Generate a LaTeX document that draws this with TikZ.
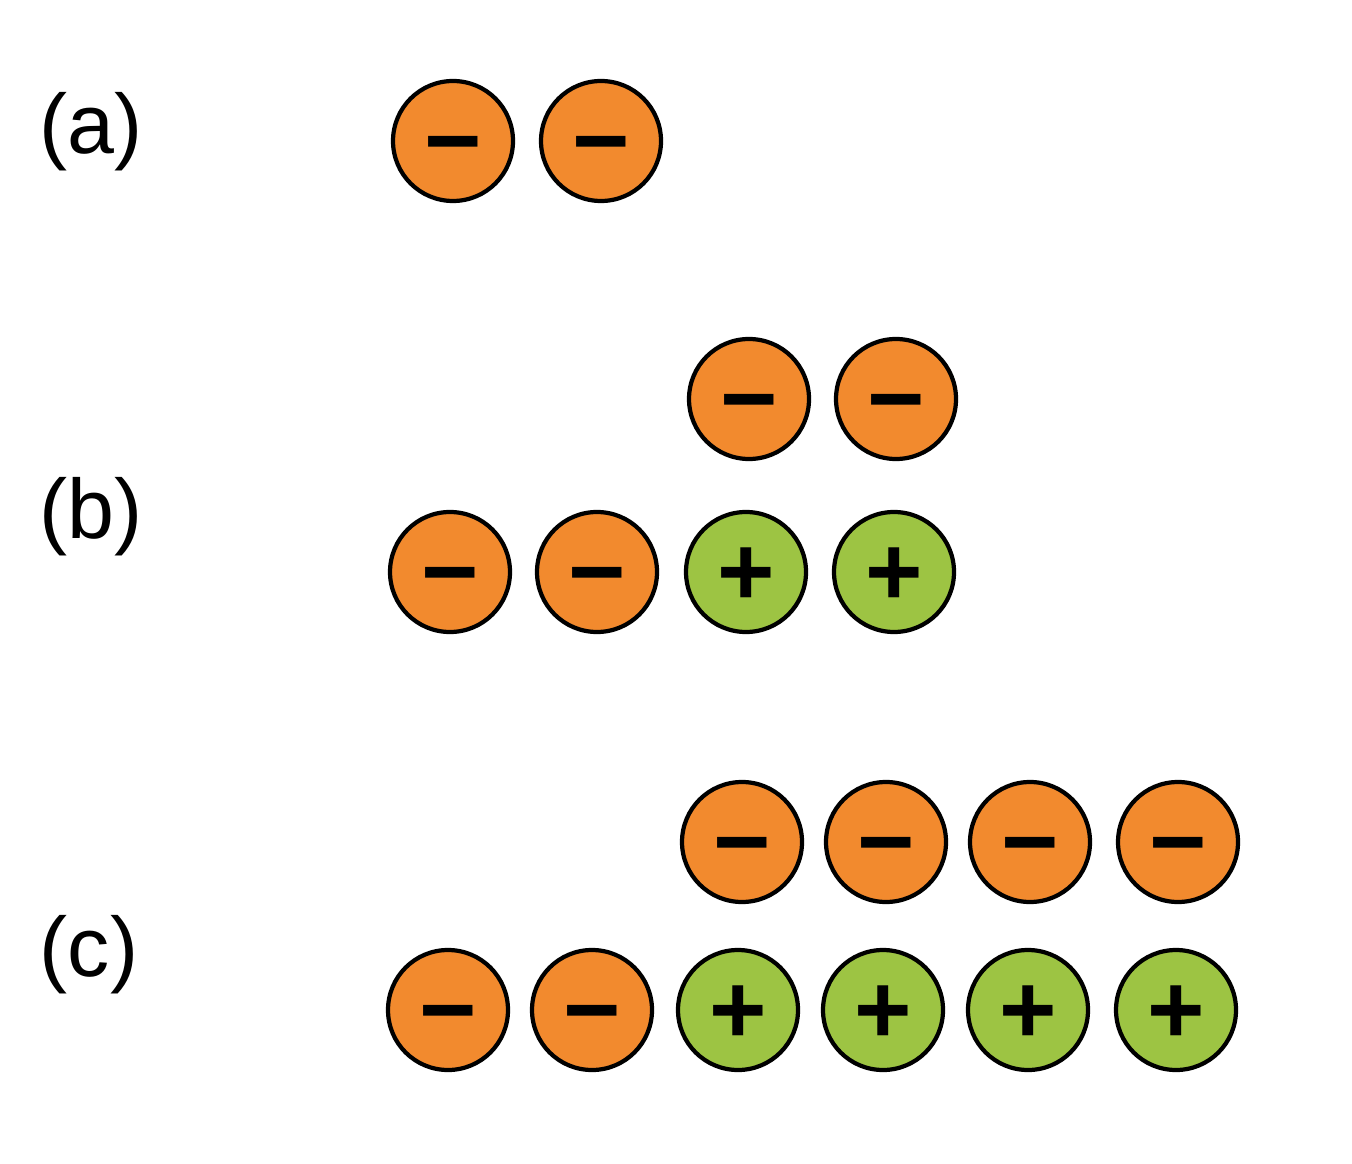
\documentclass[tikz,border=0pt]{standalone}
\usepackage{fontspec}
\setmainfont{Liberation Sans}
\usepackage{tikz}
\definecolor{chargeorange}{RGB}{242, 138, 46}
\definecolor{chargegreen}{RGB}{157, 196, 67}

\begin{document}
\begin{tikzpicture}[
    charge/.style={circle, draw=black, line width=1.2pt, minimum size=1.2cm, inner sep=0pt,
                   text height=18.8pt, text depth=0pt,
                   font=\fontsize{28}{28}\selectfont\bfseries},
    negcharge/.style={charge, fill=chargeorange},
    poscharge/.style={charge, fill=chargegreen},
    caselabel/.style={font=\fontsize{24}{24}\selectfont}
]
    \useasboundingbox (0,0) rectangle (13.52,11.63);

    % Labels
    \node[caselabel] (la) at (0.91,10.31) {(a)};
    \node[caselabel] (lb) at (0.91,6.46) {(b)};
    \node[caselabel] (lc) at (0.89,2.08) {(c)};

    % (a)
    \node[negcharge] (a1) at (4.53,10.22) {−};
    \node[negcharge] (a2) at (6.01,10.22) {−};

    % (b)
    \node[negcharge] (bt1) at (7.49,7.64) {−};
    \node[negcharge] (bt2) at (8.96,7.64) {−};
    \node[negcharge] (bb1) at (4.50,5.91) {−};
    \node[negcharge] (bb2) at (5.97,5.91) {−};
    \node[poscharge] (bb3) at (7.46,5.91) {+};
    \node[poscharge] (bb4) at (8.94,5.91) {+};

    % (c)
    \node[negcharge] (ct1) at (7.42,3.21) {−};
    \node[negcharge] (ct2) at (8.86,3.21) {−};
    \node[negcharge] (ct3) at (10.30,3.21) {−};
    \node[negcharge] (ct4) at (11.78,3.21) {−};
    \node[negcharge] (cb1) at (4.48,1.53) {−};
    \node[negcharge] (cb2) at (5.92,1.53) {−};
    \node[poscharge] (cb3) at (7.38,1.53) {+};
    \node[poscharge] (cb4) at (8.83,1.53) {+};
    \node[poscharge] (cb5) at (10.28,1.53) {+};
    \node[poscharge] (cb6) at (11.76,1.53) {+};
\end{tikzpicture}
\end{document}
